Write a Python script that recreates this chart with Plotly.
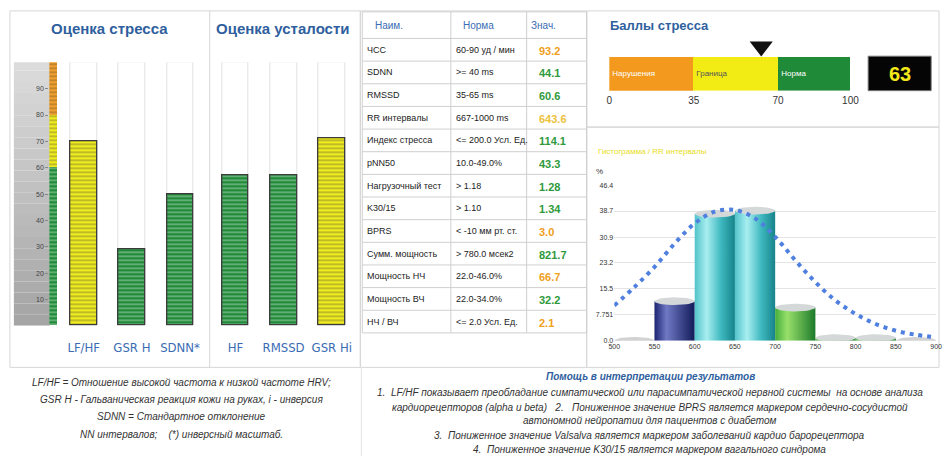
import numpy as np
import plotly.graph_objects as go

W, H = 950, 459


def px(x):
    return x / W


def py(y):
    return 1 - y / H


# ---------------- data ----------------
bar_categories = ["LF/HF", "GSR H", "SDNN*", "HF", "RMSSD", "GSR Hi"]
bar_values = [70, 29, 50, 57, 57, 71]
bar_zone = ["yellow", "green", "green", "green", "green", "yellow"]
scale_zone_bounds = [0, 60, 80, 100]
scale_zone_names = ["green", "yellow", "orange"]
scale_ticks = [10, 20, 30, 40, 50, 60, 70, 80, 90]

table_header = ["Наим.", "Норма", "Знач."]
table_names = ["ЧСС", "SDNN", "RMSSD", "RR интервалы", "Индекс стресса", "pNN50",
               "Нагрузочный тест", "K30/15", "BPRS", "Сумм. мощность",
               "Мощность НЧ", "Мощность ВЧ", "НЧ / ВЧ"]
table_norms = ["60-90 уд / мин", ">= 40 ms", "35-65 ms", "667-1000 ms", "<= 200.0 Усл. Ед.",
               "10.0-49.0%", "> 1.18", "> 1.10", "< -10 мм рт. ст.", "> 780.0 мсек2",
               "22.0-46.0%", "22.0-34.0%", "<= 2.0 Усл. Ед."]
table_values = ["93.2", "44.1", "60.6", "643.6", "114.1", "43.3", "1.28", "1.34",
                "3.0", "821.7", "66.7", "32.2", "2.1"]
table_status = ["high", "ok", "ok", "border", "ok", "ok", "ok", "ok",
                "high", "ok", "high", "ok", "high"]

gauge_labels = ["Нарушения", "Граница", "Норма"]
gauge_edges = [0, 35, 70, 100]
stress_score = 63

hist_edges = [500, 550, 600, 650, 700, 750, 800, 850, 900]
hist_values = [0.0, 11.8, 37.9, 38.8, 9.9, 0.8, 0.8, 0.0]
hist_group = ["gray", "navy", "cyan", "cyan", "green", "green", "green", "gray"]
curve_x = [500, 525, 550, 575, 600, 625, 650, 675, 700, 725, 750, 775, 800, 825, 850, 875, 900]
curve_y = [10.5, 16.0, 22.0, 29.0, 35.0, 38.5, 39.0, 36.5, 31.0, 24.0, 17.5, 12.0, 8.0, 5.0, 3.0, 1.8, 1.0]
hist_yticks = [0, 7.751, 15.5, 23.2, 30.9, 38.7, 46.4]
hist_yticktext = ["0.0", "7.751", "15.5", "23.2", "30.9", "38.7", "46.4"]

notes_left = ["LF/HF = Отношение высокой частота к низкой частоте HRV;",
              "GSR H - Гальваническая реакция кожи на руках, i - инверсия",
              "SDNN = Стандартное отклонение",
              "NN интервалов;    (*) инверсный масштаб."]
notes_right_title = "Помощь в интерпретации результатов"
notes_right = ["1.  LF/HF показывает преобладание симпатической или парасимпатической нервной системы  на основе анализа",
               "кардиорецепторов (alpha и beta)   2.   Пониженное значение BPRS является маркером сердечно-сосудистой",
               "автономной нейропатии для пациентов с диабетом",
               "3.  Пониженное значение Valsalva является маркером заболеваний кардио барорецептора",
               "4.  Пониженное значение K30/15 является маркером вагального синдрома"]

# ---------------- styles ----------------
NARROW = "Liberation Sans Narrow, Arial Narrow, DejaVu Sans Condensed, Liberation Sans, sans-serif"
SANS = "Liberation Sans, Arial, sans-serif"
BLUE = "#2f5f9e"
ZONE_FILL = {"green": "#1f8a38", "yellow": "#f1ec1d", "orange": "#f3a02a"}
ZONE_LINE = {"green": "#176e2b", "yellow": "#c9c30e", "orange": "#d7861c"}
STATUS_COLOR = {"ok": "#2f9a3c", "high": "#f0a020", "border": "#ecc23a"}
HIST_SCALE = {
    "navy": [[0, "#1a2470"], [0.3, "#6f79c4"], [1, "#121a58"]],
    "cyan": [[0, "#52c3ca"], [0.3, "#a8eef0"], [0.65, "#3fb9c0"], [1, "#17838a"]],
    "green": [[0, "#44ad3c"], [0.3, "#98e06a"], [1, "#1d7a2a"]],
}

fig = go.Figure()

# ---------------- left bar panel ----------------
bar_pos = [0, 1, 2, 3.15, 4.15, 5.15]
bw = 0.55
fig.add_trace(go.Bar(x=bar_pos, y=[100] * len(bar_pos), width=bw,
                     marker=dict(color="white", line=dict(color="#e2e2e2", width=1)),
                     hoverinfo="skip", xaxis="x", yaxis="y"))
fig.add_trace(go.Bar(x=bar_pos, y=bar_values, width=bw,
                     marker=dict(color=[ZONE_FILL[z] for z in bar_zone],
                                 line=dict(color="#3b3b3b", width=1.3),
                                 pattern=dict(shape="-", fillmode="overlay", size=4, solidity=0.3,
                                              fgcolor=[ZONE_LINE[z] for z in bar_zone])),
                     xaxis="x", yaxis="y"))
# colour scale strip
strip_pos = -0.634
fig.add_trace(go.Bar(x=[strip_pos] * 3, y=list(np.diff(scale_zone_bounds)), base=scale_zone_bounds[:-1],
                     width=0.165,
                     marker=dict(color=[ZONE_FILL[z] for z in scale_zone_names], line=dict(width=0),
                                 pattern=dict(shape="-", fillmode="overlay", size=4, solidity=0.3,
                                              fgcolor="rgba(255,255,255,0.55)")),
                     xaxis="x", yaxis="y"))

# ---------------- gauge ----------------
fig.add_trace(go.Bar(y=[0, 0, 0], x=list(np.diff(gauge_edges)), base=gauge_edges[:-1], orientation="h",
                     width=1, text=gauge_labels, textposition="inside", insidetextanchor="start",
                     textfont=dict(size=8, family=SANS, color=["#ffffff", "#555555", "#ffffff"]),
                     marker=dict(color=["#f39a1e", "#f2ec14", "#1f8a38"], line=dict(width=0)),
                     xaxis="x2", yaxis="y2"))
fig.add_trace(go.Scatter(x=[stress_score], y=[0.78], mode="markers", cliponaxis=False,
                         marker=dict(symbol="triangle-down", size=20, color="#111111"),
                         xaxis="x2", yaxis="y2"))

# ---------------- histogram ----------------
t = np.linspace(0, 2 * np.pi, 48)
ek = 1.15
for i, v in enumerate(hist_values):
    x0, x1 = hist_edges[i], hist_edges[i + 1]
    xc, hw = (x0 + x1) / 2, (x1 - x0) / 2
    g = hist_group[i]
    if v > 0:
        fig.add_trace(go.Scatter(x=[x0, x0, x1, x1, x0], y=[0, v, v, 0, 0], mode="lines",
                                 fill="toself", line=dict(width=0),
                                 fillgradient=dict(type="horizontal", colorscale=HIST_SCALE[g]),
                                 xaxis="x3", yaxis="y3", hoverinfo="skip"))
    top_col = "#d4d8d8" if g != "gray" else "#d2d2d2"
    fig.add_trace(go.Scatter(x=xc + hw * np.cos(t), y=v + ek * np.sin(t), mode="lines",
                             fill="toself", fillcolor=top_col, line=dict(width=0),
                             xaxis="x3", yaxis="y3", hoverinfo="skip"))
fig.add_trace(go.Scatter(x=curve_x, y=curve_y, mode="lines",
                         line=dict(color="#4f80e0", width=4, dash="4px,5px", shape="spline"),
                         xaxis="x3", yaxis="y3"))

# ---------------- shapes ----------------
shapes = []
ann = []
line_col = "#d6d6d6"
for (x0, y0, x1, y1) in [(4, 7, 360, 369), (360, 7, 590, 369), (590, 7, 948, 125), (590, 125, 948, 369)]:
    shapes.append(dict(type="rect", xref="paper", yref="paper", x0=px(x0), x1=px(x1), y0=py(y1), y1=py(y0),
                       line=dict(color=line_col, width=1), layer="below"))
shapes.append(dict(type="line", xref="paper", yref="paper", x0=px(207), x1=px(207), y0=py(369), y1=py(7),
                   line=dict(color=line_col, width=1)))
shapes.append(dict(type="line", xref="paper", yref="paper", x0=px(361), x1=px(361), y0=py(459), y1=py(369),
                   line=dict(color="#e4e4e4", width=1)))
# gray gradient box
n = 24
for k in range(n):
    f = k / (n - 1)
    c = int(165 + 55 * f)
    shapes.append(dict(type="rect", xref="paper", yref="y", x0=px(8), x1=px(44.5),
                       y0=101 * k / n, y1=101 * (k + 1) / n, line=dict(width=0),
                       fillcolor="rgb(%d,%d,%d)" % (c, c, c), layer="below"))
# score box
shapes.append(dict(type="rect", xref="paper", yref="paper", x0=px(876), x1=px(940), y0=py(88), y1=py(53),
                   fillcolor="#050505", line=dict(color="#777777", width=1)))

# ---------------- table (grid + text) ----------------
col_edges = [362, 452, 529, 590]
header_top, header_h, row_h = 8, 27, 23
n_rows = len(table_names)
row_edges = [header_top, header_top + header_h] + [header_top + header_h + row_h * (i + 1) for i in range(n_rows)]
for ye in row_edges:
    shapes.append(dict(type="line", xref="paper", yref="paper", x0=px(col_edges[0]), x1=px(col_edges[-1]),
                       y0=py(ye), y1=py(ye), line=dict(color="#cfcfcf", width=1)))
for xe in col_edges:
    shapes.append(dict(type="line", xref="paper", yref="paper", x0=px(xe), x1=px(xe),
                       y0=py(row_edges[-1]), y1=py(row_edges[0]), line=dict(color="#cfcfcf", width=1)))
header_x = [373, 462, 531]
for hx, htxt in zip(header_x, table_header):
    ann.append(dict(x=px(hx), y=py(header_top + header_h / 2), text=htxt, xanchor="left",
                    font=dict(size=10, color="#3a6cb4", family=SANS)))
for i in range(n_rows):
    yc = header_top + header_h + row_h * i + row_h / 2
    ann.append(dict(x=px(365), y=py(yc), text=table_names[i], xanchor="left",
                    font=dict(size=9, color="#222222", family=SANS)))
    ann.append(dict(x=px(455), y=py(yc), text=table_norms[i], xanchor="left",
                    font=dict(size=9, color="#222222", family=SANS)))
    ann.append(dict(x=px(540), y=py(yc + 1), text="<b>%s</b>" % table_values[i], xanchor="left",
                    font=dict(size=11, color=STATUS_COLOR[table_status[i]], family=SANS)))

# ---------------- annotations ----------------
ann.append(dict(x=px(105), y=py(25), text="Оценка стресса", font=dict(size=15, color=BLUE, family=SANS, weight="bold")))
ann.append(dict(x=px(281), y=py(25), text="Оценка усталости", font=dict(size=15, color=BLUE, family=SANS, weight="bold")))
ann.append(dict(x=px(612), y=py(22), text="Баллы стресса", xanchor="left",
                font=dict(size=13, color=BLUE, family=SANS, weight="bold")))
ann.append(dict(x=px(908), y=py(71), text="<b>%d</b>" % stress_score,
                font=dict(size=20, color="#f2e81a", family=SANS)))
ann.append(dict(x=px(599), y=py(150), text="Гистограмма / RR интервалы", xanchor="left",
                font=dict(size=8, color="#e8dc1c", family=SANS)))
ann.append(dict(x=px(597), y=py(170), text="%", xanchor="left", font=dict(size=8, color="#333333", family=SANS)))
for i, s in enumerate(notes_left):
    ann.append(dict(x=px(178), y=py(384 + 17.6 * i), text="<i>%s</i>" % s,
                    font=dict(size=10, color="#333333", family=SANS)))
ann.append(dict(x=px(655), y=py(378), text="<i><b>%s</b></i>" % notes_right_title,
                font=dict(size=10, color=BLUE, family=SANS)))
for i, (s, yy) in enumerate(zip(notes_right, [395, 410, 423, 438, 452])):
    ann.append(dict(x=px(654), y=py(yy), text="<i>%s</i>" % s,
                    font=dict(size=10, color="#333333", family=SANS)))
for a in ann:
    a.update(xref="paper", yref="paper", showarrow=False, yanchor="middle")
    a.setdefault("xanchor", "center")

fig.update_layout(
    width=W, height=H, margin=dict(l=0, r=0, t=0, b=0),
    paper_bgcolor="white", plot_bgcolor="rgba(0,0,0,0)",
    showlegend=False, barmode="overlay", bargap=0,
    shapes=shapes, annotations=ann,
    xaxis=dict(domain=[px(44), px(362)], range=[-0.715, 5.784], tickvals=bar_pos, ticktext=bar_categories,
               tickangle=0, tickfont=dict(size=13, color="#3a6cb4", family=NARROW), ticklabelstandoff=12,
               showgrid=False, zeroline=False, showline=False, ticks=""),
    yaxis=dict(domain=[py(326.75), py(59.25)], range=[0, 100], tickvals=scale_ticks,
               ticks="outside", ticklen=3, tickcolor="#888888", tickfont=dict(size=7, color="#444444", family=SANS),
               showgrid=False, zeroline=False, showline=False),
    xaxis2=dict(domain=[px(613), px(858)], range=[0, 100], tickvals=gauge_edges, anchor="y2",
                tickfont=dict(size=10, color="#333333", family=SANS), ticklabelstandoff=2,
                showgrid=False, zeroline=False, ticks=""),
    yaxis2=dict(domain=[py(88), py(32)], range=[-0.5, 1.1], anchor="x2", visible=False),
    xaxis3=dict(domain=[px(618), px(945)], range=[500, 900], tickvals=hist_edges, anchor="y3",
                tickfont=dict(size=7, color="#333333", family=SANS), showgrid=False, zeroline=False, ticks=""),
    yaxis3=dict(domain=[py(342), py(184)], range=[0, 46.4], tickvals=hist_yticks, ticktext=hist_yticktext,
                anchor="x3", gridcolor="#e4e4e4", tickfont=dict(size=7, color="#333333", family=SANS),
                zeroline=False, ticks=""),
)

fig.write_html("out.html", config={"displayModeBar": False},
               post_script="document.body.style.margin='0';document.body.style.padding='0';")
